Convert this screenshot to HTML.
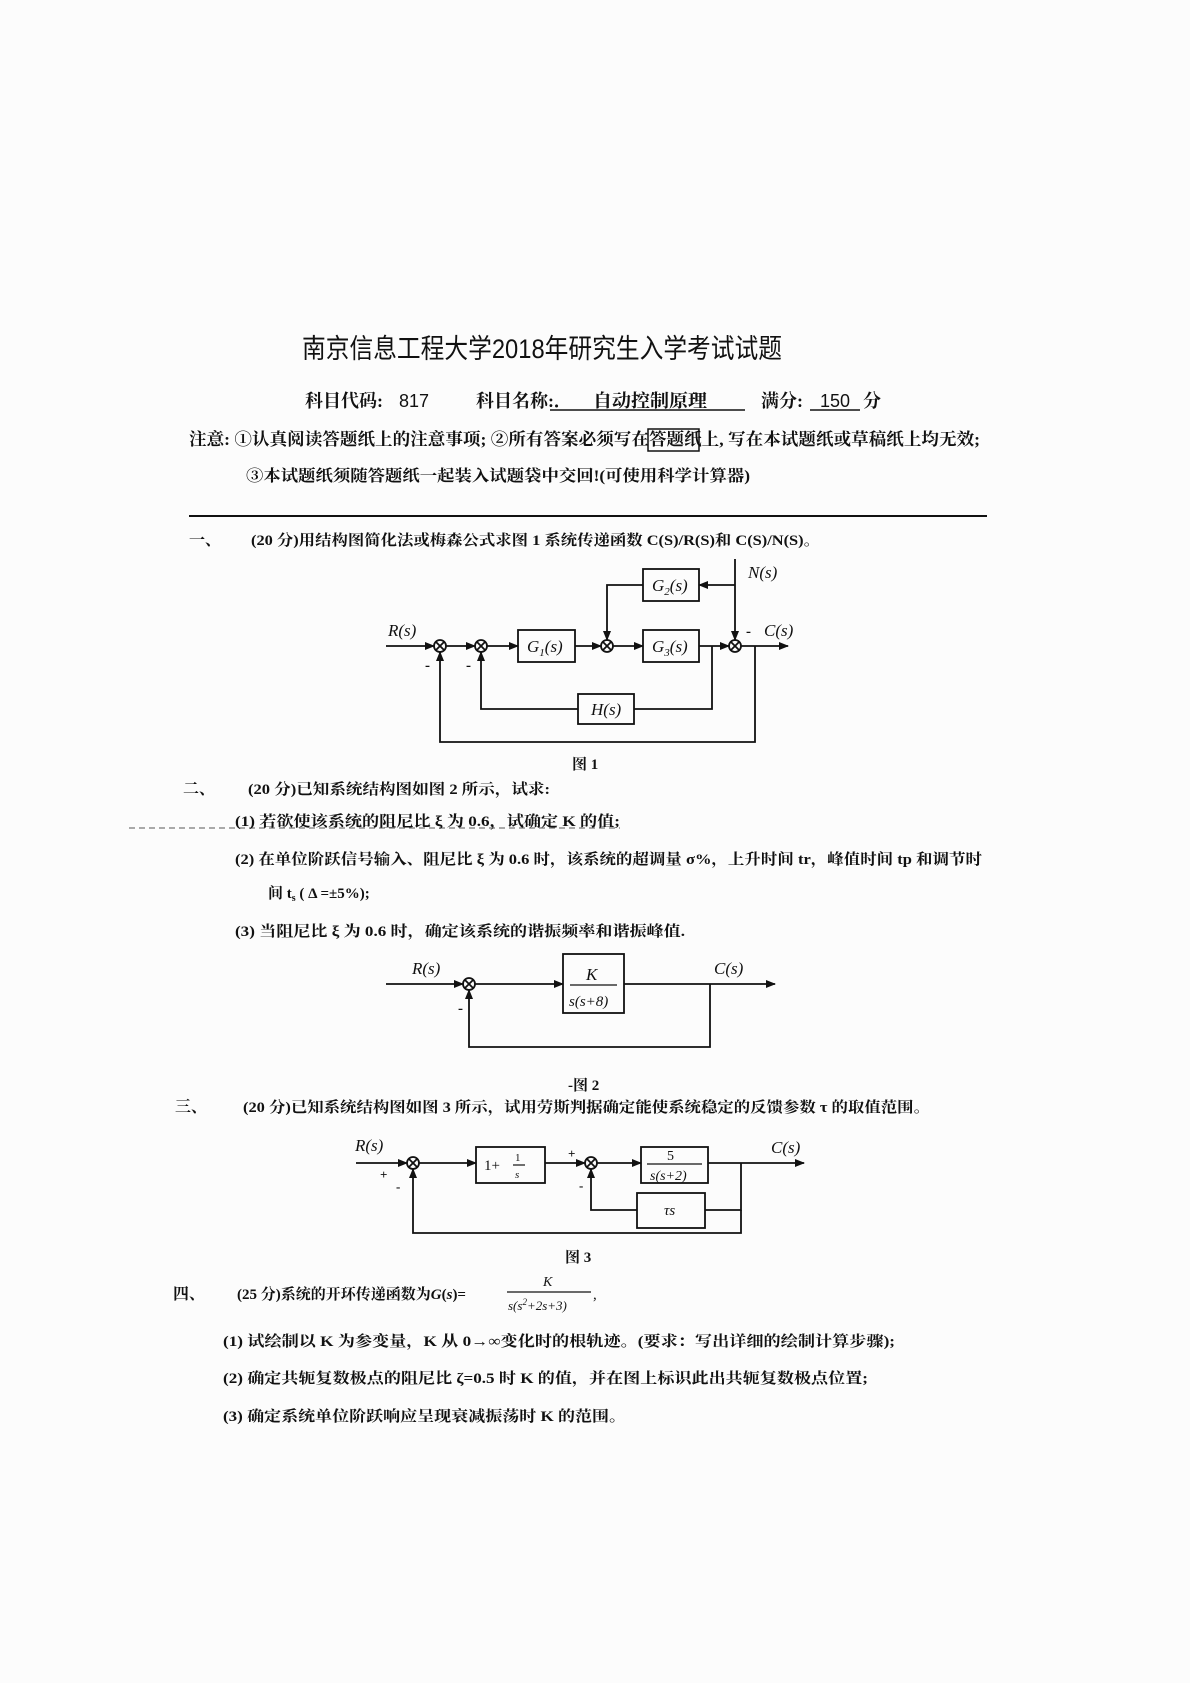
<!DOCTYPE html>
<html><head><meta charset="utf-8"><style>
html,body{margin:0;padding:0;background:#fcfcfc}
svg{display:block}
text{font-family:"Liberation Serif","Noto Serif CJK SC","Noto Sans CJK SC",serif;fill:#111}
.b{font-weight:bold}
.i{font-style:italic}
</style></head><body>
<svg width="1190" height="1683" viewBox="0 0 1190 1683" xmlns="http://www.w3.org/2000/svg">
<defs><marker id="a" markerWidth="10" markerHeight="8" refX="9" refY="4" orient="auto" markerUnits="userSpaceOnUse"><path d="M0,0 L10,4 L0,8 Z" fill="#111"/></marker></defs>
<rect width="1190" height="1683" fill="#fcfcfc"/>
<line x1="189" y1="516" x2="987" y2="516" stroke="#111" stroke-width="2"/>
<!-- header -->
<text x="302" y="358" font-size="27" textLength="480" lengthAdjust="spacingAndGlyphs" style="font-family:'Liberation Sans','Noto Sans CJK SC',sans-serif">南京信息工程大学2018年研究生入学考试试题</text>
<text x="305" y="407" font-size="18" class="b">科目代码:</text>
<text x="399" y="407" font-size="18" style="font-family:'Liberation Sans',sans-serif">817</text>
<text x="476" y="407" font-size="18" class="b">科目名称:．</text>
<text x="593" y="407" font-size="18" class="b" textLength="114" lengthAdjust="spacingAndGlyphs">自动控制原理</text>
<line x1="550" y1="410" x2="745" y2="410" stroke="#111" stroke-width="1.5"/>
<text x="761" y="407" font-size="18" class="b">满分:</text>
<text x="820" y="407" font-size="18" style="font-family:'Liberation Sans',sans-serif">150</text>
<line x1="810" y1="410" x2="860" y2="410" stroke="#111" stroke-width="1.5"/>
<text x="863" y="407" font-size="18" class="b">分</text>
<text x="189" y="445" font-size="17" class="b" textLength="791" lengthAdjust="spacingAndGlyphs">注意: ①认真阅读答题纸上的注意事项; ②所有答案必须写在答题纸上, 写在本试题纸或草稿纸上均无效;</text>
<rect x="648" y="429" width="51" height="22" fill="none" stroke="#111" stroke-width="1.5"/>
<text x="246" y="481" font-size="16" class="b" textLength="504" lengthAdjust="spacingAndGlyphs">③本试题纸须随答题纸一起装入试题袋中交回!(可使用科学计算器)</text>
<!-- Q1 -->
<text x="189" y="545" font-size="16" class="b">一、</text>
<text x="251" y="545" font-size="15" class="b" textLength="569" lengthAdjust="spacingAndGlyphs">(20 分)用结构图简化法或梅森公式求图 1 系统传递函数 C(S)/R(S)和 C(S)/N(S)。</text>
<!-- diagram 1 -->
<g stroke="#111" stroke-width="1.8" fill="none">
<line x1="386" y1="646" x2="434" y2="646" marker-end="url(#a)"/>
<circle cx="440" cy="646" r="6"/><line x1="436" y1="642" x2="444" y2="650"/><line x1="444" y1="642" x2="436" y2="650"/>
<line x1="446" y1="646" x2="475" y2="646" marker-end="url(#a)"/>
<circle cx="481" cy="646" r="6"/><line x1="477" y1="642" x2="485" y2="650"/><line x1="485" y1="642" x2="477" y2="650"/>
<line x1="487" y1="646" x2="518" y2="646" marker-end="url(#a)"/>
<rect x="518" y="630" width="57" height="32"/>
<line x1="575" y1="646" x2="601" y2="646" marker-end="url(#a)"/>
<circle cx="607" cy="646" r="6"/><line x1="603" y1="642" x2="611" y2="650"/><line x1="611" y1="642" x2="603" y2="650"/>
<line x1="613" y1="646" x2="643" y2="646" marker-end="url(#a)"/>
<rect x="643" y="630" width="56" height="32"/>
<line x1="699" y1="646" x2="729" y2="646" marker-end="url(#a)"/>
<circle cx="735" cy="646" r="6"/><line x1="731" y1="642" x2="739" y2="650"/><line x1="739" y1="642" x2="731" y2="650"/>
<line x1="741" y1="646" x2="788" y2="646" marker-end="url(#a)"/>
<rect x="643" y="569" width="56" height="32"/>
<line x1="735" y1="559" x2="735" y2="640" marker-end="url(#a)"/>
<line x1="735" y1="585" x2="699" y2="585" marker-end="url(#a)"/>
<polyline points="643,585 607,585 607,640" marker-end="url(#a)"/>
<rect x="578" y="694" width="56" height="30"/>
<polyline points="712,646 712,709 634,709"/>
<polyline points="578,709 481,709 481,652" marker-end="url(#a)"/>
<polyline points="755,646 755,742 440,742 440,652" marker-end="url(#a)"/>
</g>
<g font-size="17" class="i">
<text x="388" y="636">R(s)</text>
<text x="764" y="636">C(s)</text>
<text x="748" y="578">N(s)</text>
<text x="527" y="652">G<tspan font-size="11" dy="4">1</tspan><tspan dy="-4">(s)</tspan></text>
<text x="652" y="652">G<tspan font-size="11" dy="4">3</tspan><tspan dy="-4">(s)</tspan></text>
<text x="652" y="591">G<tspan font-size="11" dy="4">2</tspan><tspan dy="-4">(s)</tspan></text>
<text x="591" y="715">H(s)</text>
</g>
<text x="746" y="636" font-size="15" class="b">-</text>
<text x="425" y="670" font-size="15" class="b">-</text>
<text x="466" y="670" font-size="15" class="b">-</text>
<text x="572" y="769" font-size="15" class="b">图 1</text>
<!-- Q2 -->
<text x="183" y="794" font-size="16" class="b">二、</text>
<text x="248" y="794" font-size="15" class="b" textLength="302" lengthAdjust="spacingAndGlyphs">(20 分)已知系统结构图如图 2 所示，试求:</text>
<line x1="129" y1="828" x2="620" y2="828" stroke="#777" stroke-width="1.2" stroke-dasharray="6,4"/>
<text x="235" y="826" font-size="15" class="b" textLength="385" lengthAdjust="spacingAndGlyphs">(1)  若欲使该系统的阻尼比 ξ 为 0.6，试确定 K 的值;</text>
<text x="235" y="864" font-size="15" class="b" textLength="747" lengthAdjust="spacingAndGlyphs">(2)  在单位阶跃信号输入、阻尼比 ξ 为 0.6 时，该系统的超调量 σ%，上升时间 tr，峰值时间 tp 和调节时</text>
<text x="268" y="898" font-size="15" class="b">间 t<tspan font-size="10" dy="3">s</tspan><tspan dy="-3"> ( Δ =±5%);</tspan></text>
<text x="235" y="936" font-size="15" class="b" textLength="450" lengthAdjust="spacingAndGlyphs">(3)  当阻尼比 ξ 为 0.6 时，确定该系统的谐振频率和谐振峰值.</text>
<!-- diagram 2 -->
<g transform="translate(0,-3)">
<g stroke="#111" stroke-width="1.8" fill="none">
<line x1="386" y1="987" x2="463" y2="987" marker-end="url(#a)"/>
<circle cx="469" cy="987" r="6"/><line x1="465" y1="983" x2="473" y2="991"/><line x1="473" y1="983" x2="465" y2="991"/>
<line x1="475" y1="987" x2="563" y2="987" marker-end="url(#a)"/>
<rect x="563" y="957" width="61" height="59"/>
<line x1="570" y1="988" x2="617" y2="988" stroke-width="1.2"/>
<line x1="624" y1="987" x2="775" y2="987" marker-end="url(#a)"/>
<polyline points="710,987 710,1050 469,1050 469,993" marker-end="url(#a)"/>
</g>
<g font-size="17" class="i">
<text x="412" y="977">R(s)</text>
<text x="714" y="977">C(s)</text>
<text x="586" y="983">K</text>
<text x="569" y="1009" font-size="15">s(s+8)</text>
</g>
<text x="458" y="1016" font-size="15" class="b">-</text>
<text x="568" y="1093" font-size="15" class="b">-图 2</text>
</g>
<g transform="translate(0,-5)">
<!-- Q3 -->
<text x="175" y="1117" font-size="16" class="b">三、</text>
<text x="243" y="1117" font-size="15" class="b" textLength="687" lengthAdjust="spacingAndGlyphs">(20 分)已知系统结构图如图 3 所示，试用劳斯判据确定能使系统稳定的反馈参数 τ 的取值范围。</text>
<g stroke="#111" stroke-width="1.8" fill="none">
<line x1="356" y1="1168" x2="407" y2="1168" marker-end="url(#a)"/>
<circle cx="413" cy="1168" r="6"/><line x1="409" y1="1164" x2="417" y2="1172"/><line x1="417" y1="1164" x2="409" y2="1172"/>
<line x1="419" y1="1168" x2="476" y2="1168" marker-end="url(#a)"/>
<rect x="476" y="1152" width="69" height="36"/>
<line x1="545" y1="1168" x2="585" y2="1168" marker-end="url(#a)"/>
<circle cx="591" cy="1168" r="6"/><line x1="587" y1="1164" x2="595" y2="1172"/><line x1="595" y1="1164" x2="587" y2="1172"/>
<line x1="597" y1="1168" x2="641" y2="1168" marker-end="url(#a)"/>
<rect x="641" y="1152" width="67" height="36"/>
<line x1="647" y1="1169" x2="702" y2="1169" stroke-width="1.2"/>
<line x1="708" y1="1168" x2="804" y2="1168" marker-end="url(#a)"/>
<rect x="637" y="1198" width="68" height="35"/>
<polyline points="741,1168 741,1215 705,1215"/>
<polyline points="637,1215 591,1215 591,1174" marker-end="url(#a)"/>
<polyline points="741,1215 741,1238 413,1238 413,1174" marker-end="url(#a)"/>
<line x1="513" y1="1170" x2="525" y2="1170" stroke-width="1.2"/>
</g>
<g font-size="17" class="i">
<text x="355" y="1156">R(s)</text>
<text x="771" y="1158">C(s)</text>
<text x="664" y="1220" font-size="15">τs</text>
<text x="667" y="1165" font-size="14" style="font-style:normal">5</text>
<text x="650" y="1185" font-size="14">s(s+2)</text>
</g>
<text x="484" y="1175" font-size="15">1+</text>
<text x="515" y="1166" font-size="11">1</text>
<text x="515" y="1183" font-size="11" class="i">s</text>
<text x="380" y="1184" font-size="13" class="b">+</text>
<text x="396" y="1196" font-size="13" class="b">-</text>
<text x="568" y="1163" font-size="13" class="b">+</text>
<text x="579" y="1195" font-size="13" class="b">-</text>
<text x="565" y="1267" font-size="15" class="b">图 3</text>
</g>
<g transform="translate(0,-7)">
<!-- Q4 -->
<text x="173" y="1306" font-size="16" class="b">四、</text>
<text x="237" y="1306" font-size="15" class="b">(25 分)系统的开环传递函数为<tspan class="i">G</tspan>(<tspan class="i">s</tspan>)=</text>
<line x1="507" y1="1299" x2="591" y2="1299" stroke="#111" stroke-width="1.2"/>
<text x="543" y="1293" font-size="14" class="i">K</text>
<text x="508" y="1317" font-size="13" class="i">s(s<tspan font-size="9" dy="-5">2</tspan><tspan dy="5">+2s+3)</tspan></text>
<text x="593" y="1306" font-size="15">,</text>
<text x="223" y="1353" font-size="15" class="b" textLength="672" lengthAdjust="spacingAndGlyphs">(1)  试绘制以 K 为参变量，K 从 0→∞变化时的根轨迹。(要求：写出详细的绘制计算步骤);</text>
<text x="223" y="1390" font-size="15" class="b" textLength="645" lengthAdjust="spacingAndGlyphs">(2)  确定共轭复数极点的阻尼比 ζ=0.5 时 K 的值，并在图上标识此出共轭复数极点位置;</text>
<text x="223" y="1428" font-size="15" class="b" textLength="403" lengthAdjust="spacingAndGlyphs">(3)  确定系统单位阶跃响应呈现衰减振荡时 K 的范围。</text>
</g>
</svg>
</body></html>
